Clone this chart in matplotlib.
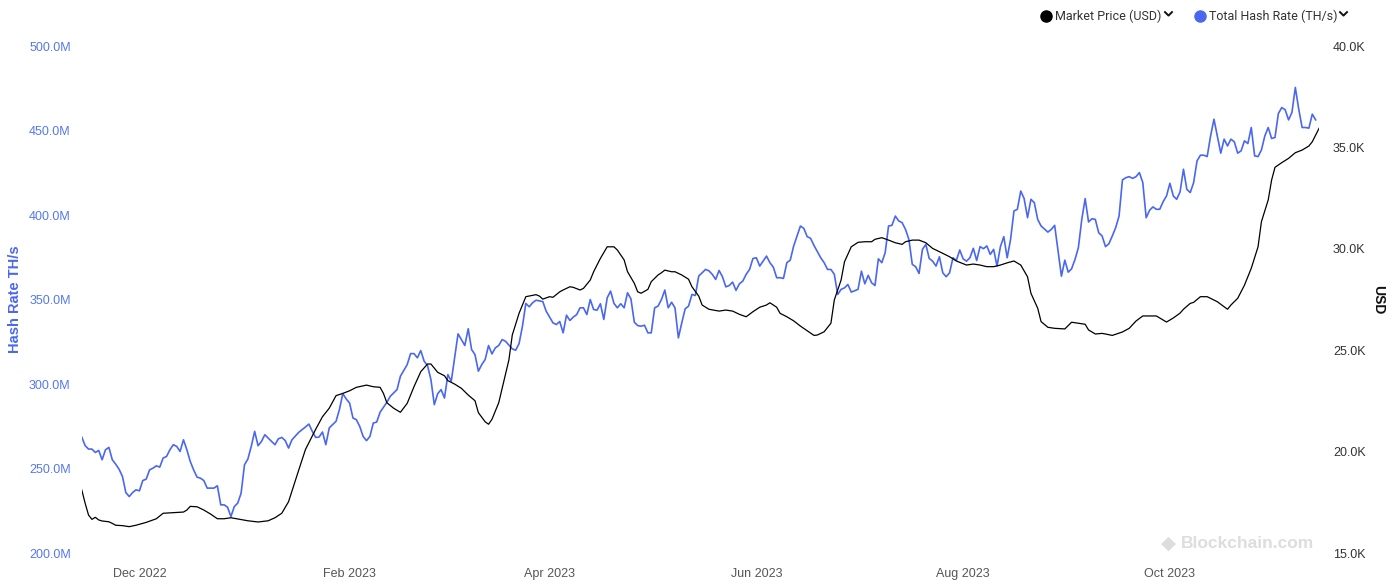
import matplotlib
matplotlib.use('Agg')
import matplotlib.pyplot as plt
import matplotlib.dates as mdates
from matplotlib.lines import Line2D
from matplotlib.ticker import FuncFormatter, FixedLocator
import pandas as pd

# one year of daily data, starting 14 Nov 2022
start = pd.Timestamp('2022-11-14')

# total hash rate, millions of TH/s (one value per day)
hash_rate = [
    268.6, 263.5, 261.5, 261.5, 259.5, 260.7, 255.2, 261.1, 262.5, 255.2,
    252.6, 249.6, 245.3, 235.8, 233.4, 235.8, 237.4, 236.8, 242.9, 243.7,
    249.2, 250.2, 251.6, 250.8, 256.2, 257.1, 261.1, 264.1, 263.1, 260.1,
    267.0, 261.1, 254.2, 249.2, 244.9, 244.3, 242.9, 238.4, 238.4, 238.4,
    239.8, 228.5, 228.5, 227.1, 221.6, 227.5, 229.5, 235.4, 252.2, 255.6,
    263.1, 272.0, 263.5, 266.0, 270.0, 268.0, 266.0, 264.1, 267.6, 268.4,
    266.6, 262.1, 267.0, 269.2, 271.4, 273.0, 274.6, 276.3, 272.0, 268.4,
    268.6, 271.6, 264.1, 274.0, 276.0, 277.9, 284.8, 294.3, 291.2, 288.8,
    279.9, 278.9, 274.9, 269.0, 266.5, 269.0, 276.9, 277.5, 283.3, 286.3,
    289.2, 292.7, 294.7, 296.7, 304.6, 308.0, 311.5, 318.0, 318.0, 315.5,
    319.8, 313.5, 310.9, 302.6, 287.8, 294.3, 296.7, 291.7, 305.6, 301.6,
    315.7, 329.7, 326.3, 322.8, 332.7, 320.4, 317.4, 307.6, 311.5, 314.5,
    322.8, 317.8, 321.4, 322.8, 326.3, 325.3, 323.0, 320.8, 320.0, 323.9,
    334.2, 347.7, 345.7, 348.1, 349.6, 349.2, 348.8, 343.1, 339.6, 336.2,
    335.2, 337.0, 330.3, 340.7, 337.6, 339.6, 341.1, 345.1, 345.1, 341.1,
    350.0, 344.1, 343.7, 347.5, 338.2, 351.0, 355.0, 347.7, 345.1, 347.5,
    345.1, 354.0, 350.4, 336.6, 334.6, 334.2, 334.8, 330.3, 330.3, 345.1,
    346.1, 350.0, 355.6, 345.1, 348.4, 345.1, 327.3, 336.2, 344.5, 346.1,
    353.0, 352.4, 363.9, 365.8, 367.8, 367.0, 364.9, 361.9, 367.2, 363.5,
    357.5, 358.3, 360.3, 355.4, 359.3, 360.9, 364.9, 367.8, 374.3, 374.7,
    369.8, 372.7, 375.7, 371.8, 369.2, 362.9, 362.9, 362.5, 371.8, 373.3,
    381.6, 387.6, 393.5, 392.1, 387.2, 386.2, 382.0, 378.3, 374.7, 371.8,
    367.8, 367.8, 364.9, 353.0, 356.0, 356.9, 358.9, 354.4, 355.2, 356.0,
    366.8, 359.3, 364.3, 359.9, 358.3, 374.1, 371.8, 377.7, 393.5, 393.9,
    399.4, 396.5, 395.5, 391.5, 385.6, 370.8, 369.4, 365.4, 379.7, 382.6,
    374.3, 372.7, 369.8, 375.3, 365.8, 363.5, 365.8, 374.7, 373.1, 379.3,
    374.1, 372.7, 374.7, 380.3, 373.1, 381.3, 380.1, 381.7, 376.7, 379.7,
    369.8, 381.3, 387.2, 374.7, 385.6, 402.4, 403.4, 414.2, 409.7, 398.4,
    409.3, 407.3, 397.4, 393.5, 391.7, 389.9, 391.5, 393.9, 378.7, 363.8,
    373.3, 366.2, 368.2, 373.7, 380.7, 397.4, 409.7, 395.9, 397.8, 397.4,
    389.5, 387.6, 381.3, 383.0, 387.6, 392.5, 399.4, 420.8, 422.1, 422.7,
    421.7, 422.7, 425.1, 419.2, 398.4, 402.8, 404.8, 403.4, 403.4, 407.9,
    411.3, 418.8, 411.3, 409.3, 413.7, 427.1, 415.2, 413.3, 419.2, 432.0,
    435.4, 435.4, 434.6, 446.8, 456.7, 446.8, 436.6, 444.9, 440.9, 444.9,
    443.3, 436.6, 438.0, 443.9, 442.3, 451.8, 435.0, 434.6, 438.5, 446.8,
    451.8, 445.3, 445.9, 460.1, 463.6, 462.3, 456.3, 460.7, 475.5, 462.7,
    451.8, 451.8, 451.4, 459.7, 456.3,
]

# market price, thousands of USD, read at these day offsets
price_day = [
    0, 1, 2, 3, 4, 5, 6, 8, 9, 10, 12, 14, 16, 19, 22, 24, 27, 30, 31, 32,
    34, 36, 38, 40, 42, 44, 46, 49, 52, 55, 57, 59, 61, 64, 66, 69, 71, 73, 75, 77,
    79, 81, 84, 86, 88, 89, 90, 92, 94, 96, 98, 100, 102, 103, 105, 107, 108, 110, 112, 114,
    116, 117, 119, 120, 121, 123, 126, 127, 129, 131, 134, 135, 136, 138, 139, 141, 142, 144, 145, 147,
    148, 150, 151, 153, 155, 157, 158, 160, 161, 163, 164, 165, 167, 168, 170, 171, 172, 174, 175, 177,
    179, 180, 182, 183, 185, 188, 190, 192, 194, 196, 198, 200, 202, 203, 205, 206, 208, 210, 212, 214,
    216, 217, 219, 221, 222, 224, 225, 227, 229, 231, 233, 234, 236, 238, 240, 242, 243, 245, 247, 249,
    251, 253, 256, 258, 261, 263, 265, 267, 269, 271, 273, 275, 277, 279, 280, 282, 283, 285, 287, 290,
    292, 294, 296, 297, 299, 301, 302, 304, 307, 309, 311, 313, 317, 319, 320, 322, 324, 325, 327, 328,
    330, 332, 335, 338, 339, 341, 343, 345, 347, 348, 350, 351, 352, 354, 356, 358, 360, 362, 363, 365,
]
price_usd = [
    18.11, 17.45, 16.87, 16.66, 16.76, 16.63, 16.58, 16.54, 16.46, 16.37, 16.35, 16.30, 16.37, 16.51, 16.69, 16.96, 16.99, 17.02, 17.12, 17.30,
    17.28, 17.12, 16.92, 16.69, 16.69, 16.74, 16.68, 16.59, 16.53, 16.59, 16.74, 16.96, 17.53, 19.09, 20.11, 21.10, 21.72, 22.14, 22.76, 22.87,
    23.00, 23.17, 23.28, 23.20, 23.17, 22.87, 22.41, 22.14, 21.94, 22.38, 23.20, 23.94, 24.32, 24.32, 23.91, 23.74, 23.50, 23.33, 23.12, 22.79,
    22.51, 21.92, 21.47, 21.35, 21.59, 22.41, 24.52, 25.75, 26.82, 27.64, 27.74, 27.67, 27.52, 27.64, 27.61, 27.88, 27.97, 28.13, 28.10, 27.97,
    28.05, 28.46, 28.87, 29.53, 30.10, 30.10, 29.94, 29.45, 28.87, 28.30, 27.88, 27.81, 28.00, 28.38, 28.71, 28.82, 28.95, 28.87, 28.87, 28.71,
    28.50, 28.13, 27.67, 27.23, 27.02, 26.93, 26.98, 26.93, 26.77, 26.65, 26.90, 27.12, 27.23, 27.34, 27.12, 26.82, 26.65, 26.45, 26.19, 25.96,
    25.73, 25.75, 25.91, 26.33, 27.48, 28.46, 29.36, 30.10, 30.32, 30.35, 30.35, 30.47, 30.55, 30.43, 30.30, 30.22, 30.35, 30.43, 30.43, 30.30,
    30.02, 29.86, 29.61, 29.40, 29.20, 29.25, 29.20, 29.12, 29.12, 29.20, 29.31, 29.40, 29.20, 28.62, 27.81, 27.07, 26.41, 26.13, 26.08, 26.05,
    26.38, 26.33, 26.28, 26.00, 25.80, 25.83, 25.80, 25.73, 25.90, 26.08, 26.44, 26.69, 26.69, 26.49, 26.39, 26.59, 26.83, 27.02, 27.31, 27.36,
    27.64, 27.64, 27.39, 27.02, 27.23, 27.56, 28.21, 29.04, 30.10, 31.34, 32.41, 33.39, 34.02, 34.25, 34.46, 34.74, 34.87, 35.07, 35.28, 35.94,
]

hash_ticks = [200, 250, 300, 350, 400, 450, 500]
usd_ticks = [15, 20, 25, 30, 35, 40]

hash_dates = pd.date_range(start, periods=len(hash_rate), freq='D')
price_dates = start + pd.to_timedelta(price_day, unit='D')

BLUE = '#4a67ef'
W, H = 1386, 582

fig = plt.figure(figsize=(W / 100, H / 100), dpi=100)
ax = fig.add_axes([0.0590, 0.0498, 0.8927, 0.8711])
ax2 = ax.twinx()

ax.plot(hash_dates, hash_rate, color=BLUE, lw=1.2)
ax2.plot(price_dates, price_usd, color='black', lw=0.9)

ax.set_xlim(start, start + pd.Timedelta(days=365))
ax.set_ylim(hash_ticks[0], hash_ticks[-1])
ax2.set_ylim(usd_ticks[0], usd_ticks[-1])

ax.yaxis.set_major_locator(FixedLocator(hash_ticks))
ax.yaxis.set_major_formatter(FuncFormatter(lambda v, p: f'{v:.1f}M'))
ax2.yaxis.set_major_locator(FixedLocator(usd_ticks))
ax2.yaxis.set_major_formatter(FuncFormatter(lambda v, p: f'{v:.1f}K'))

ax.xaxis.set_major_locator(mdates.MonthLocator(bymonth=[12, 2, 4, 6, 8, 10]))
ax.xaxis.set_major_formatter(mdates.DateFormatter('%b %Y'))

for a in (ax, ax2):
    for s in a.spines.values():
        s.set_visible(False)

ax.tick_params(axis='x', length=0, pad=11, labelsize=9, labelcolor='#555555')
ax.tick_params(axis='y', length=0, pad=8, labelsize=9, labelcolor='#5577f2')
ax2.tick_params(axis='y', length=0, pad=10, labelsize=9, labelcolor='#333333')
for lab in ax.get_xticklabels() + ax.get_yticklabels() + ax2.get_yticklabels():
    lab.set_family('Liberation Sans')

ax.set_ylabel('Hash Rate TH/s', color=BLUE, fontsize=10.5, fontweight='bold',
              family='Liberation Sans', va='center')
ax.yaxis.set_label_coords(-0.0536, 0.5)
ax2.set_ylabel('USD', color='#111111', fontsize=10, fontweight='bold',
               family='Liberation Sans', rotation=270, va='center')
ax2.yaxis.set_label_coords(1.0477, 0.5)

# legend at the top right
def fx(x):
    return x / W

def fy(y):
    return 1 - y / H

chevron = [(-1, 0.5), (0, -0.5), (1, 0.5)]
legend_items = [('Market Price (USD)', 'black', 1046, 1055, 1168),
                ('Total Hash Rate (TH/s)', BLUE, 1200, 1209, 1343)]
for label, col, xdot, xtxt, xchev in legend_items:
    fig.add_artist(Line2D([fx(xdot)], [fy(16)], marker='o', ms=8, color=col,
                          transform=fig.transFigure))
    fig.text(fx(xtxt), fy(16), label, ha='left', va='center', fontsize=9,
             color='#333333', family='Roboto')
    fig.add_artist(Line2D([fx(xchev)], [fy(13)], marker=chevron, ms=6,
                          mfc='none', mec='#111111', mew=1.4, ls='none',
                          transform=fig.transFigure))

# watermark
fig.text(fx(1168), fy(543), '\u25c6', ha='center', va='center', fontsize=14,
         color='#dddddd')
fig.text(fx(1181), fy(543), 'Blockchain.com', ha='left', va='center',
         fontsize=12.5, fontweight='bold', color='#dddddd', family='Liberation Sans')

fig.savefig('out.png', dpi=100)
